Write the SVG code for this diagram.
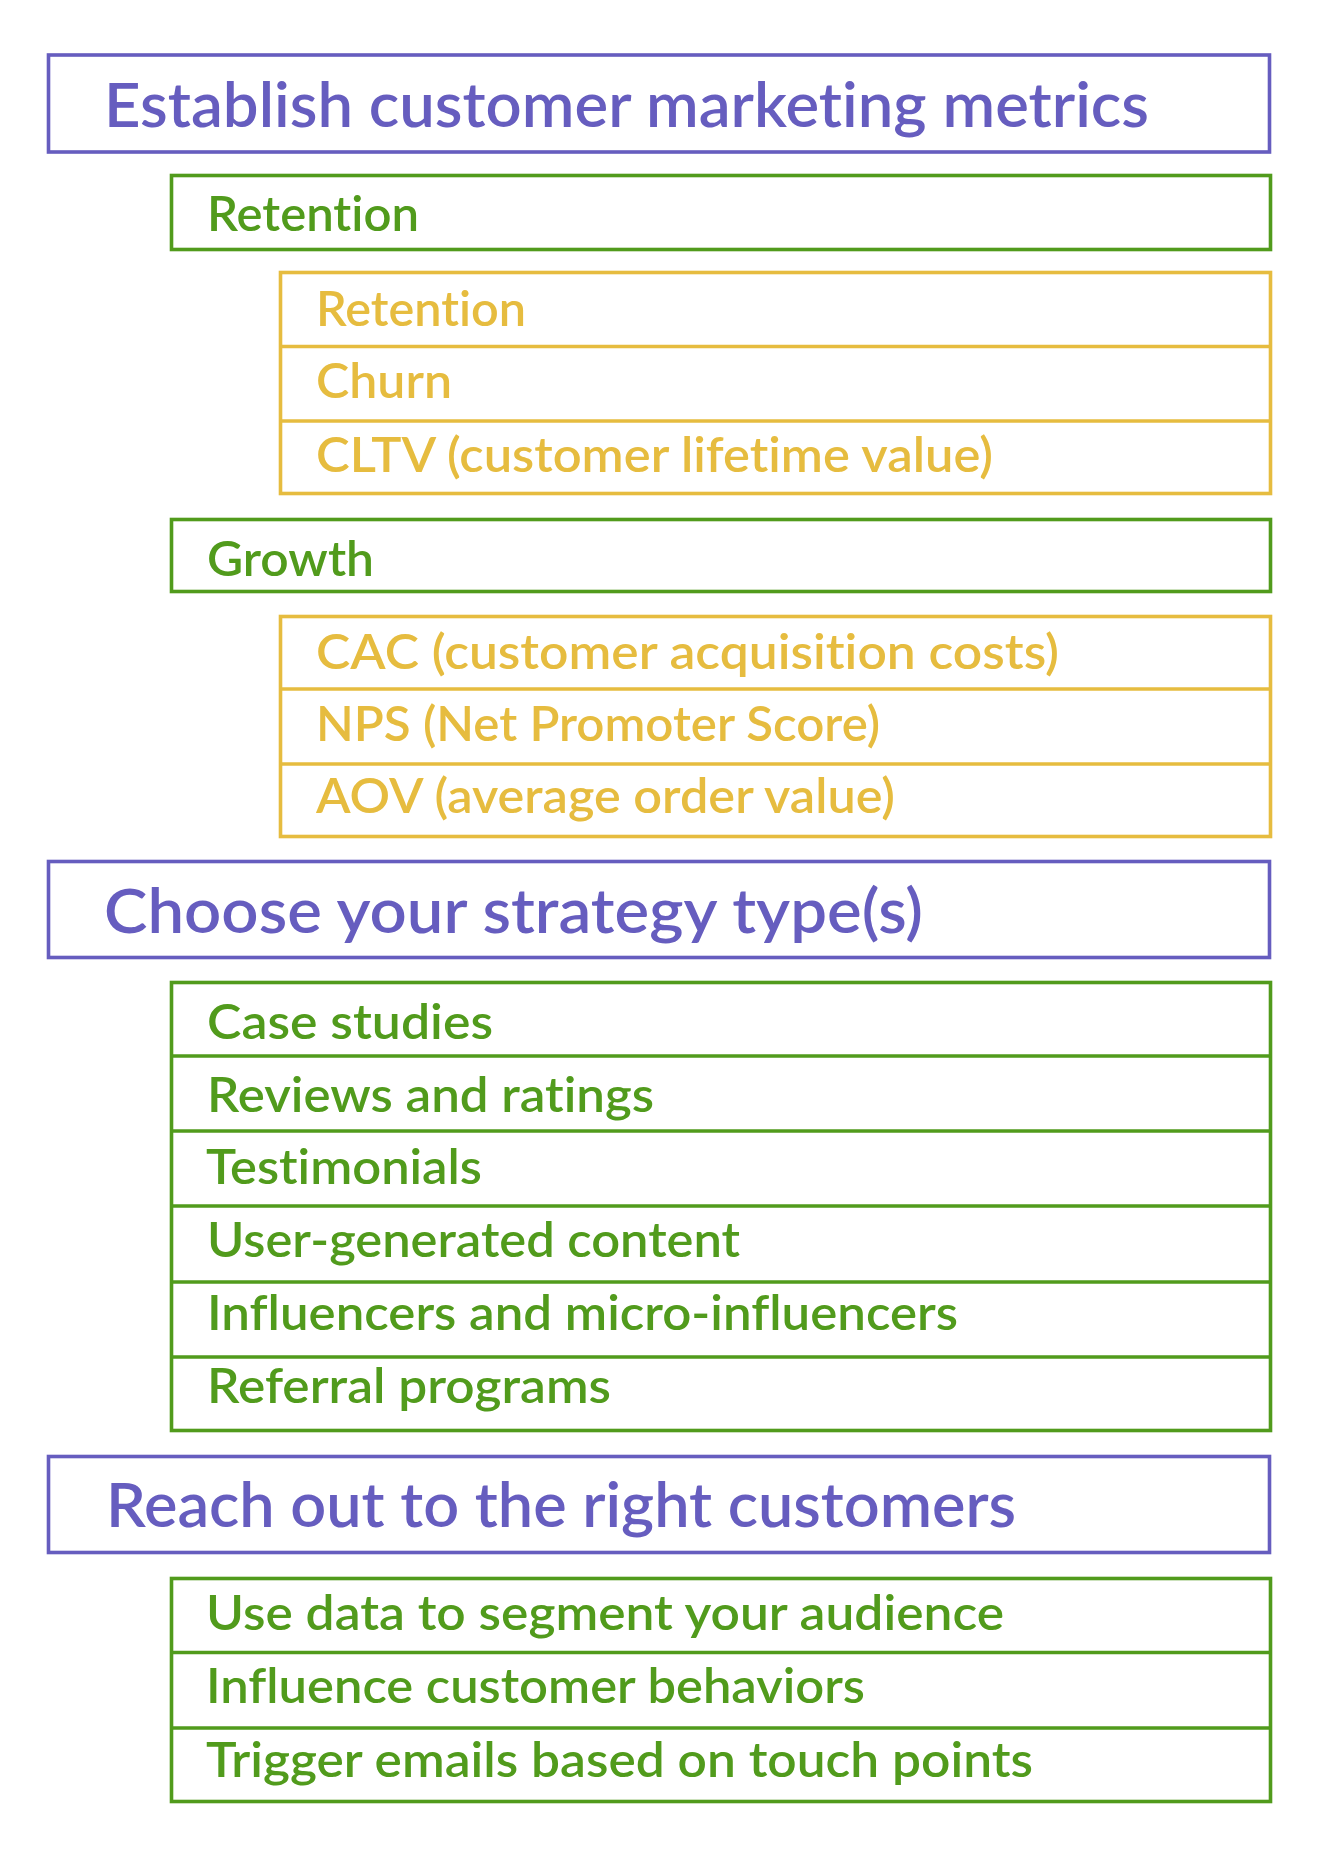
<svg xmlns="http://www.w3.org/2000/svg" width="1320" height="1864" viewBox="0 0 1320 1864">
<style>
.box{fill:none;stroke-width:3.6;stroke-linejoin:miter}
.p{stroke:#665dbf}
.g{stroke:#519b1c}
.y{stroke:#e6bc3f}
text{font-family:Lato,"Noto Sans","DejaVu Sans",sans-serif;font-weight:600;font-variant-ligatures:none;font-feature-settings:"liga" 0,"clig" 0}
.t1{font-size:61px;fill:#665dbf}
.t2{font-size:48px;fill:#519b1c}
.t3{font-size:48px;fill:#e6bc3f}
</style>
<rect width="1320" height="1864" fill="#ffffff"/>

<g id="node-establish">
<rect class="box p" x="48.5" y="55" width="1221" height="97"/>
<text class="t1" x="104" y="127" textLength="1045" lengthAdjust="spacingAndGlyphs">Establish customer marketing metrics</text>
</g>

<g id="node-retention-group">
<rect class="box g" x="171.5" y="175.5" width="1099" height="74"/>
<text class="t2" x="207" y="231" textLength="212" lengthAdjust="spacingAndGlyphs">Retention</text>
</g>

<g id="node-retention-metrics">
<rect class="box y" x="280.5" y="272.5" width="990" height="221"/>
<line class="box y" x1="280.5" y1="346.5" x2="1270.5" y2="346.5"/>
<line class="box y" x1="280.5" y1="421" x2="1270.5" y2="421"/>
<text class="t3" x="316" y="325.7" textLength="210" lengthAdjust="spacingAndGlyphs">Retention</text>
<text class="t3" x="316" y="398" textLength="136" lengthAdjust="spacingAndGlyphs">Churn</text>
<text class="t3" x="316" y="471.7" textLength="677" lengthAdjust="spacingAndGlyphs">CLTV (customer lifetime value)</text>
</g>

<g id="node-growth-group">
<rect class="box g" x="171.5" y="519.5" width="1099" height="72"/>
<text class="t2" x="207" y="575.7" textLength="167" lengthAdjust="spacingAndGlyphs">Growth</text>
</g>

<g id="node-growth-metrics">
<rect class="box y" x="280.5" y="616.5" width="990" height="220"/>
<line class="box y" x1="280.5" y1="689" x2="1270.5" y2="689"/>
<line class="box y" x1="280.5" y1="764" x2="1270.5" y2="764"/>
<text class="t3" x="316" y="669" textLength="743" lengthAdjust="spacingAndGlyphs">CAC (customer acquisition costs)</text>
<text class="t3" x="316" y="741" textLength="564" lengthAdjust="spacingAndGlyphs">NPS (Net Promoter Score)</text>
<text class="t3" x="316" y="813" textLength="579" lengthAdjust="spacingAndGlyphs">AOV (average order value)</text>
</g>

<g id="node-choose">
<rect class="box p" x="48.5" y="861.5" width="1221" height="96"/>
<text class="t1" x="104" y="933" textLength="819" lengthAdjust="spacingAndGlyphs">Choose your strategy type(s)</text>
</g>

<g id="node-strategy-types">
<rect class="box g" x="171.5" y="982.5" width="1099" height="448"/>
<line class="box g" x1="171.5" y1="1056" x2="1270.5" y2="1056"/>
<line class="box g" x1="171.5" y1="1131" x2="1270.5" y2="1131"/>
<line class="box g" x1="171.5" y1="1206" x2="1270.5" y2="1206"/>
<line class="box g" x1="171.5" y1="1282" x2="1270.5" y2="1282"/>
<line class="box g" x1="171.5" y1="1357" x2="1270.5" y2="1357"/>
<text class="t2" x="207" y="1039" textLength="286" lengthAdjust="spacingAndGlyphs">Case studies</text>
<text class="t2" x="207" y="1111.7" textLength="447" lengthAdjust="spacingAndGlyphs">Reviews and ratings</text>
<text class="t2" x="206" y="1184" textLength="276" lengthAdjust="spacingAndGlyphs">Testimonials</text>
<text class="t2" x="207" y="1256.7" textLength="533" lengthAdjust="spacingAndGlyphs">User-generated content</text>
<text class="t2" x="207" y="1330" textLength="751" lengthAdjust="spacingAndGlyphs">Influencers and micro-influencers</text>
<text class="t2" x="207" y="1403" textLength="404" lengthAdjust="spacingAndGlyphs">Referral programs</text>
</g>

<g id="node-reach">
<rect class="box p" x="48.5" y="1456.5" width="1221" height="96"/>
<text class="t1" x="106" y="1527" textLength="910" lengthAdjust="spacingAndGlyphs">Reach out to the right customers</text>
</g>

<g id="node-reach-actions">
<rect class="box g" x="171.5" y="1578.5" width="1099" height="223"/>
<line class="box g" x1="171.5" y1="1652.5" x2="1270.5" y2="1652.5"/>
<line class="box g" x1="171.5" y1="1728" x2="1270.5" y2="1728"/>
<text class="t2" x="206" y="1630" textLength="798" lengthAdjust="spacingAndGlyphs">Use data to segment your audience</text>
<text class="t2" x="206" y="1703" textLength="659" lengthAdjust="spacingAndGlyphs">Influence customer behaviors</text>
<text class="t2" x="206" y="1777" textLength="827" lengthAdjust="spacingAndGlyphs">Trigger emails based on touch points</text>
</g>

<g id="connectors"></g>
</svg>
